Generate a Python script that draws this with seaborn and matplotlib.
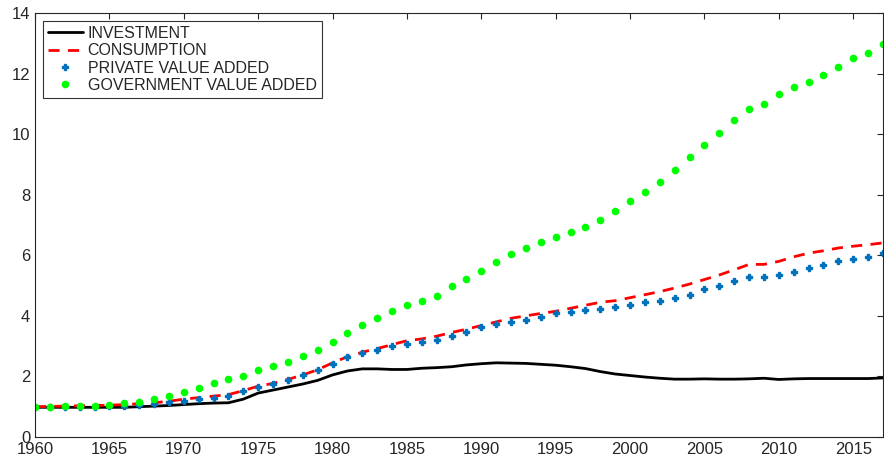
import numpy as np
import pandas as pd
import matplotlib
matplotlib.use("Agg")
import matplotlib.pyplot as plt
import seaborn as sns

years = list(range(1960, 2018))

investment = [0.98, 0.98, 0.98, 0.98, 0.98, 0.98, 0.98, 1.00, 1.02, 1.04,
              1.07, 1.10, 1.12, 1.13, 1.25, 1.45, 1.55, 1.65, 1.75, 1.87,
              2.05, 2.18, 2.25, 2.25, 2.23, 2.23, 2.27, 2.29, 2.32, 2.38,
              2.42, 2.45, 2.44, 2.43, 2.40, 2.37, 2.32, 2.26, 2.16, 2.08,
              2.03, 1.98, 1.94, 1.91, 1.91, 1.92, 1.91, 1.91, 1.92, 1.94,
              1.90, 1.92, 1.93, 1.93, 1.93, 1.93, 1.93, 1.95]

consumption = [1.00, 1.01, 1.02, 1.03, 1.04, 1.05, 1.07, 1.10, 1.13, 1.18,
               1.25, 1.30, 1.35, 1.40, 1.53, 1.68, 1.77, 1.90, 2.05, 2.22,
               2.45, 2.65, 2.80, 2.92, 3.05, 3.18, 3.24, 3.33, 3.45, 3.56,
               3.68, 3.80, 3.92, 4.00, 4.08, 4.15, 4.25, 4.35, 4.45, 4.50,
               4.60, 4.70, 4.80, 4.92, 5.05, 5.20, 5.35, 5.52, 5.70, 5.70,
               5.80, 5.95, 6.07, 6.15, 6.24, 6.30, 6.35, 6.41]

private_va = [1.00, 1.00, 1.00, 1.00, 1.00, 1.01, 1.03, 1.06, 1.10, 1.17,
              1.20, 1.27, 1.28, 1.37, 1.52, 1.66, 1.75, 1.87, 2.04, 2.20,
              2.41, 2.63, 2.77, 2.87, 3.01, 3.08, 3.14, 3.21, 3.33, 3.48,
              3.62, 3.72, 3.80, 3.87, 3.97, 4.08, 4.12, 4.18, 4.24, 4.29,
              4.36, 4.46, 4.50, 4.59, 4.70, 4.88, 5.00, 5.16, 5.27, 5.29,
              5.36, 5.46, 5.59, 5.69, 5.81, 5.87, 5.95, 6.06]

government_va = [0.98, 1.00, 1.01, 1.03, 1.04, 1.07, 1.13, 1.17, 1.25, 1.35,
                 1.47, 1.62, 1.77, 1.90, 2.02, 2.20, 2.33, 2.47, 2.66, 2.86,
                 3.13, 3.44, 3.69, 3.92, 4.15, 4.35, 4.50, 4.67, 4.97, 5.23,
                 5.48, 5.78, 6.05, 6.25, 6.45, 6.62, 6.78, 6.95, 7.16, 7.46,
                 7.79, 8.09, 8.42, 8.81, 9.24, 9.65, 10.04, 10.47, 10.83, 11.00,
                 11.33, 11.55, 11.73, 11.96, 12.23, 12.51, 12.68, 12.98]

df = pd.DataFrame({'Year': years, 'Investment': investment, 'Consumption': consumption,
                   'Private': private_va, 'Government': government_va})

sns.set_style("white")
plt.rcParams['font.family'] = ['Liberation Sans', 'DejaVu Sans']

fig = plt.figure(figsize=(8.84, 4.62), dpi=100)
ax = fig.add_axes([35 / 884, 25 / 462, 848 / 884, 424 / 462])

sns.lineplot(x='Year', y='Investment', data=df, ax=ax, color='black', linewidth=2,
             label='INVESTMENT')
sns.lineplot(x='Year', y='Consumption', data=df, ax=ax, color='#ff0000', linewidth=2,
             dashes=(4, 3), label='CONSUMPTION')
ax.plot(df['Year'], df['Private'], linestyle='none', marker='P', markersize=4.5,
        color='#0072BD', label='PRIVATE VALUE ADDED')
ax.plot(df['Year'], df['Government'], linestyle='none', marker='o', markersize=4.5,
        color='#00ff00', label='GOVERNMENT VALUE ADDED')

ax.set_xlim(1960, 2017)
ax.set_ylim(0, 14)
ax.set_xticks(range(1960, 2016, 5))
ax.set_yticks(range(0, 15, 2))
ax.set_xlabel('')
ax.set_ylabel('')
ax.tick_params(direction='in', length=4, labelsize=12, colors='#262626', top=True, right=True,
               labeltop=False, labelright=False)
for s in ax.spines.values():
    s.set_color('#262626')
    s.set_linewidth(0.8)

leg = ax.legend(loc='upper left', fontsize=11.5, frameon=True, fancybox=False,
                edgecolor='black', borderpad=0.3, labelspacing=0.15, handlelength=2.2,
                handletextpad=0.3, borderaxespad=0.5)
leg.get_frame().set_linewidth(0.8)

fig.savefig('out.png', dpi=100)
